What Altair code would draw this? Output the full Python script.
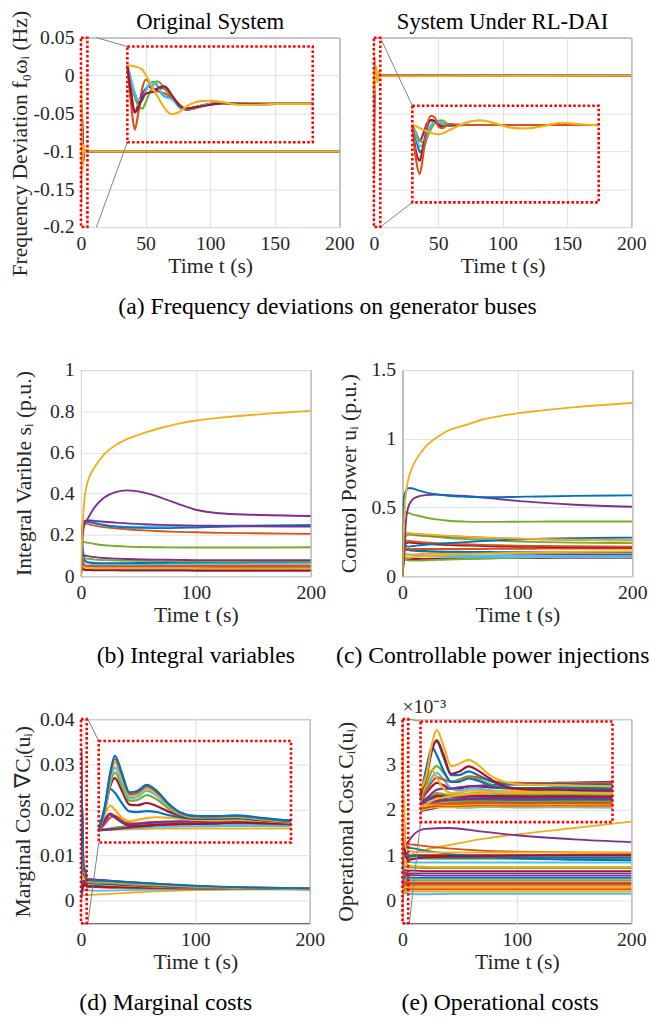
import altair as alt
import pandas as pd

FONT = "Liberation Serif"
BLUE, ORANGE, YELLOW, PURPLE = "#0072BD", "#D95319", "#EDB120", "#7E2F8E"
GREEN, CYAN, RED = "#77AC30", "#4DBEEE", "#A2142F"

# ---------------- (a) frequency deviations ----------------
TA = [0, 0.1, 0.2, 0.3, 0.4, 0.5, 0.6, 0.7, 0.8, 0.9, 1.0, 1.2, 1.4, 1.6, 1.8, 2.0,
      2.3, 2.6, 3.0, 3.5, 4.0, 4.5, 5.0, 200]

A1_BLUE = [0, -0.04, -0.08, -0.097, -0.09, -0.065, -0.048, -0.043, -0.05, -0.07, -0.08, -0.085,
           -0.108, -0.115, -0.111, -0.104, -0.099, -0.098, -0.1, -0.101, -0.1, -0.1, -0.1, -0.1]
A1_ORANGE = [0, -0.1, -0.167, -0.12, -0.06, -0.036, -0.045, -0.06, -0.066, -0.069, -0.072, -0.083,
             -0.103, -0.116, -0.112, -0.106, -0.099, -0.097, -0.099, -0.101, -0.1, -0.1, -0.1, -0.1]
A1_PURPLE = [0, -0.07, -0.122, -0.1, -0.075, -0.06, -0.055, -0.06, -0.062, -0.058, -0.06, -0.08,
             -0.105, -0.113, -0.109, -0.104, -0.1, -0.098, -0.1, -0.1, -0.1, -0.1, -0.1, -0.1]
A1_GREEN = [0, -0.04, -0.08, -0.105, -0.112, -0.095, -0.07, -0.05, -0.041, -0.046, -0.06, -0.08,
            -0.1, -0.114, -0.112, -0.106, -0.1, -0.098, -0.1, -0.1, -0.1, -0.1, -0.1, -0.1]
A1_CYAN = [0, -0.035, -0.07, -0.09, -0.085, -0.065, -0.05, -0.045, -0.052, -0.068, -0.08, -0.088,
           -0.106, -0.113, -0.11, -0.104, -0.1, -0.098, -0.1, -0.1, -0.1, -0.1, -0.1, -0.1]
A1_RED = [0, -0.07, -0.122, -0.11, -0.085, -0.073, -0.07, -0.068, -0.06, -0.055, -0.054, -0.077,
          -0.104, -0.112, -0.109, -0.106, -0.101, -0.098, -0.1, -0.1, -0.1, -0.1, -0.1, -0.1]
A1_YELLOW = [0, 0, -0.002, -0.005, -0.01, -0.025, -0.042, -0.06, -0.078, -0.095, -0.11, -0.127,
             -0.121, -0.106, -0.097, -0.092, -0.092, -0.096, -0.102, -0.102, -0.1, -0.1, -0.1, -0.1]

A2_BLUE = [0, -0.035, -0.07, -0.06, -0.03, -0.005, 0.006, 0.009, 0.004, 0, -0.002, 0,
           0.001, 0, 0, 0, 0, 0, 0, 0, 0, 0, 0, 0]
A2_PURPLE = [0, -0.03, -0.041, -0.02, 0.005, 0.012, 0.008, 0.002, -0.002, 0, 0.001, 0,
             0, 0, 0, 0, 0, 0, 0, 0, 0, 0, 0, 0]
A2_GREEN = [0, -0.02, -0.04, -0.045, -0.03, -0.01, 0.005, 0.011, 0.012, 0.006, 0, -0.002,
            0, 0, 0, 0, 0, 0, 0, 0, 0, 0, 0, 0]
A2_CYAN = [0, -0.03, -0.055, -0.05, -0.02, 0, 0.008, 0.008, 0.003, 0, 0, 0,
           0, 0, 0, 0, 0, 0, 0, 0, 0, 0, 0, 0]
A2_RED = [0, -0.07, -0.092, -0.05, -0.005, 0.013, 0.01, 0, -0.005, -0.002, 0.001, 0,
          0, 0, 0, 0, 0, 0, 0, 0, 0, 0, 0, 0]
A2_ORANGE = [0, -0.09, -0.127, -0.07, 0, 0.024, 0.02, -0.004, -0.008, -0.002, 0.002, 0.001,
             0, 0, 0, 0, 0, 0, 0, 0, 0, 0, 0, 0]
A2_YELLOW = [0, -0.003, -0.008, -0.013, -0.016, -0.02, -0.023, -0.024, -0.022, -0.018, -0.013, -0.004,
             0.005, 0.01, 0.012, 0.01, 0.002, -0.006, -0.009, -0.003, 0.006, 0.002, -0.001, 0]

# ---------------- (b) integral variables / (c) control power ----------------
TB = [0, 1, 2, 3, 5, 8, 12, 20, 30, 40, 55, 70, 85, 100, 120, 150, 200]

B_SERIES = [
    [0, 0.05, 0.035, 0.03, 0.03, 0.03, 0.03, 0.03, 0.03, 0.03, 0.03, 0.03, 0.03, 0.03, 0.03, 0.03, 0.03],
    [0, 0.06, 0.04, 0.033, 0.03, 0.029, 0.028, 0.028, 0.028, 0.027, 0.027, 0.027, 0.027, 0.026, 0.026, 0.026, 0.026],
    [0, 0.08, 0.05, 0.042, 0.04, 0.039, 0.038, 0.038, 0.038, 0.038, 0.038, 0.038, 0.038, 0.037, 0.037, 0.037, 0.037],
    [0, 0.12, 0.07, 0.055, 0.05, 0.048, 0.047, 0.046, 0.046, 0.046, 0.046, 0.046, 0.046, 0.046, 0.045, 0.045, 0.045],
    [0, 0.1, 0.06, 0.052, 0.05, 0.05, 0.05, 0.05, 0.05, 0.05, 0.051, 0.051, 0.051, 0.052, 0.052, 0.052, 0.052],
    [0, 0.2, 0.12, 0.08, 0.065, 0.06, 0.058, 0.057, 0.057, 0.058, 0.058, 0.059, 0.06, 0.06, 0.06, 0.061, 0.062],
    [0, 0.15, 0.1, 0.08, 0.07, 0.066, 0.064, 0.063, 0.063, 0.063, 0.064, 0.065, 0.066, 0.067, 0.067, 0.068, 0.069],
    [0, 0.08, 0.09, 0.088, 0.085, 0.083, 0.08, 0.078, 0.076, 0.075, 0.074, 0.073, 0.072, 0.072, 0.071, 0.071, 0.07],
    [0, 0.09, 0.1, 0.1, 0.098, 0.095, 0.092, 0.088, 0.085, 0.083, 0.081, 0.08, 0.079, 0.078, 0.078, 0.077, 0.077],
    [0, 0.14, 0.165, 0.165, 0.163, 0.16, 0.156, 0.15, 0.146, 0.143, 0.141, 0.14, 0.139, 0.139, 0.139, 0.139, 0.14],
    [0, 0.21, 0.25, 0.255, 0.255, 0.25, 0.245, 0.238, 0.232, 0.227, 0.222, 0.218, 0.215, 0.213, 0.21, 0.208, 0.205],
    [0, 0.22, 0.26, 0.268, 0.266, 0.26, 0.255, 0.247, 0.242, 0.24, 0.24, 0.241, 0.242, 0.243, 0.245, 0.246, 0.248],
    [0, 0.2, 0.25, 0.262, 0.265, 0.263, 0.258, 0.248, 0.24, 0.236, 0.234, 0.233, 0.234, 0.236, 0.239, 0.243, 0.247],
    [0, 0.2, 0.26, 0.268, 0.27, 0.27, 0.268, 0.264, 0.26, 0.256, 0.252, 0.249, 0.247, 0.245, 0.244, 0.242, 0.24],
    [0, 0.15, 0.22, 0.25, 0.27, 0.3, 0.335, 0.38, 0.408, 0.416, 0.405, 0.38, 0.35, 0.322, 0.305, 0.298, 0.292],
    [0, 0.2, 0.3, 0.37, 0.44, 0.49, 0.53, 0.59, 0.635, 0.665, 0.695, 0.72, 0.74, 0.755, 0.768, 0.783, 0.802],
]
B_COLORS = [BLUE, RED, YELLOW, ORANGE, ORANGE, CYAN, BLUE, GREEN, PURPLE, GREEN,
            ORANGE, CYAN, BLUE, PURPLE, PURPLE, YELLOW]

C_SERIES = [
    [0, 0.1, 0.12, 0.122, 0.123, 0.124, 0.125, 0.126, 0.127, 0.128, 0.129, 0.13, 0.131, 0.132, 0.132, 0.133, 0.134],
    [0, 0.15, 0.13, 0.12, 0.115, 0.113, 0.113, 0.115, 0.118, 0.121, 0.125, 0.128, 0.131, 0.134, 0.137, 0.14, 0.143],
    [0, 0.2, 0.17, 0.16, 0.158, 0.155, 0.152, 0.148, 0.145, 0.143, 0.141, 0.14, 0.139, 0.138, 0.138, 0.137, 0.137],
    [0, 0.15, 0.16, 0.16, 0.158, 0.156, 0.154, 0.152, 0.151, 0.15, 0.15, 0.15, 0.15, 0.15, 0.15, 0.15, 0.15],
    [0, 0.12, 0.18, 0.19, 0.19, 0.188, 0.185, 0.18, 0.177, 0.174, 0.171, 0.169, 0.167, 0.165, 0.163, 0.161, 0.16],
    [0, 0.32, 0.2, 0.16, 0.155, 0.157, 0.16, 0.163, 0.165, 0.167, 0.168, 0.169, 0.17, 0.17, 0.17, 0.17, 0.17],
    [0, 0.18, 0.19, 0.19, 0.19, 0.188, 0.186, 0.183, 0.18, 0.178, 0.177, 0.176, 0.175, 0.175, 0.175, 0.175, 0.175],
    [0, 0.3, 0.18, 0.14, 0.135, 0.137, 0.14, 0.145, 0.15, 0.155, 0.16, 0.165, 0.168, 0.171, 0.174, 0.177, 0.18],
    [0, 0.28, 0.22, 0.2, 0.198, 0.198, 0.198, 0.198, 0.198, 0.198, 0.198, 0.198, 0.199, 0.199, 0.2, 0.2, 0.2],
    [0, 0.15, 0.22, 0.24, 0.245, 0.243, 0.24, 0.235, 0.23, 0.226, 0.222, 0.219, 0.216, 0.214, 0.212, 0.21, 0.208],
    [0, 0.25, 0.26, 0.26, 0.258, 0.255, 0.25, 0.245, 0.24, 0.236, 0.232, 0.228, 0.225, 0.222, 0.22, 0.218, 0.215],
    [0, 0.2, 0.27, 0.29, 0.3, 0.3, 0.298, 0.292, 0.285, 0.278, 0.27, 0.263, 0.257, 0.252, 0.248, 0.244, 0.24],
    [0, 0.3, 0.25, 0.22, 0.215, 0.218, 0.222, 0.228, 0.235, 0.24, 0.248, 0.255, 0.262, 0.267, 0.272, 0.277, 0.28],
    [0, 0.25, 0.3, 0.31, 0.31, 0.308, 0.305, 0.3, 0.295, 0.29, 0.285, 0.28, 0.275, 0.272, 0.268, 0.264, 0.26],
    [0, 0.3, 0.31, 0.31, 0.31, 0.31, 0.308, 0.303, 0.298, 0.293, 0.287, 0.282, 0.277, 0.273, 0.27, 0.265, 0.26],
    [0, 0.4, 0.46, 0.465, 0.46, 0.452, 0.443, 0.427, 0.413, 0.403, 0.397, 0.395, 0.395, 0.396, 0.397, 0.398, 0.398],
    [0, 0.1, 0.25, 0.4, 0.5, 0.55, 0.575, 0.59, 0.593, 0.59, 0.583, 0.572, 0.56, 0.548, 0.535, 0.52, 0.505],
    [0, 0.55, 0.6, 0.62, 0.64, 0.64, 0.63, 0.61, 0.595, 0.585, 0.578, 0.575, 0.575, 0.577, 0.58, 0.584, 0.588],
    [0, 0.3, 0.5, 0.6, 0.7, 0.78, 0.85, 0.94, 1.01, 1.06, 1.1, 1.14, 1.165, 1.185, 1.205, 1.23, 1.26],
]
C_COLORS = [RED, GREEN, CYAN, CYAN, PURPLE, YELLOW, BLUE, YELLOW, ORANGE, RED,
            ORANGE, GREEN, BLUE, PURPLE, YELLOW, GREEN, PURPLE, BLUE, YELLOW]

# ---------------- (d) marginal costs / (e) operational costs ----------------
TD = [0, 0.15, 0.3, 0.42, 0.6, 0.8, 1.0, 1.25, 1.5, 1.8, 2.1, 2.5, 3.0, 3.6, 4.3, 5.0,
      10, 20, 40, 70, 100, 150, 200]

D_SERIES = [
    [0.0005, 0.0005, 0.0006, 0.0007, 0.0008, 0.0009, 0.001, 0.0011, 0.0012, 0.0012, 0.0012, 0.0012, 0.0012, 0.0012, 0.0012, 0.0012, 0.0013, 0.0014, 0.0017, 0.0021, 0.0023, 0.0025, 0.0025],
    [0.0005, 0.0006, 0.0008, 0.001, 0.0012, 0.0014, 0.0016, 0.0018, 0.002, 0.0021, 0.0022, 0.0022, 0.0023, 0.0024, 0.0024, 0.0023, 0.0022, 0.0022, 0.0023, 0.0024, 0.0025, 0.0025, 0.0025],
    [0.0005, 0.0007, 0.001, 0.0013, 0.0016, 0.0019, 0.0022, 0.0026, 0.003, 0.0032, 0.0033, 0.0033, 0.0034, 0.0035, 0.0034, 0.0033, 0.0033, 0.0032, 0.0031, 0.003, 0.0028, 0.0027, 0.0026],
    [0.0005, 0.0008, 0.0012, 0.0016, 0.002, 0.0025, 0.003, 0.0035, 0.0038, 0.004, 0.004, 0.004, 0.0041, 0.0043, 0.0042, 0.004, 0.0039, 0.0038, 0.0035, 0.0032, 0.003, 0.0027, 0.0026],
    [0.0005, 0.0006, 0.0008, 0.001, 0.0013, 0.0016, 0.002, 0.0024, 0.0028, 0.003, 0.0032, 0.0034, 0.0038, 0.0042, 0.0044, 0.0045, 0.0046, 0.0045, 0.0041, 0.0036, 0.0032, 0.0028, 0.0026],
    [0.0005, 0.003, 0.006, 0.0068, 0.005, 0.0035, 0.0035, 0.004, 0.0042, 0.004, 0.0037, 0.0035, 0.0035, 0.0037, 0.0034, 0.003, 0.003, 0.0029, 0.0028, 0.0027, 0.0026, 0.0026, 0.0025],
    [0.0005, 0.005, 0.0078, 0.0065, 0.004, 0.0025, 0.0022, 0.0025, 0.0028, 0.003, 0.0031, 0.0032, 0.0035, 0.0038, 0.0036, 0.0032, 0.0031, 0.003, 0.0029, 0.0028, 0.0027, 0.0026, 0.0025],
    [0.0005, 0.004, 0.0075, 0.006, 0.004, 0.003, 0.0032, 0.0036, 0.004, 0.0043, 0.0044, 0.0043, 0.0042, 0.0045, 0.0047, 0.0048, 0.0047, 0.0045, 0.004, 0.0035, 0.0031, 0.0028, 0.0026],
    [0.0005, 0.007, 0.0114, 0.0095, 0.006, 0.0045, 0.005, 0.0058, 0.0062, 0.006, 0.0056, 0.005, 0.0048, 0.005, 0.0045, 0.0038, 0.0037, 0.0036, 0.0033, 0.003, 0.0028, 0.0026, 0.0025],
    [0.0005, 0.01, 0.0187, 0.017, 0.0125, 0.0088, 0.0085, 0.0089, 0.0085, 0.0072, 0.0062, 0.0055, 0.0055, 0.0057, 0.0047, 0.0039, 0.0038, 0.0037, 0.0034, 0.0031, 0.0029, 0.0027, 0.0026],
    [0.0005, 0.0085, 0.02, 0.0235, 0.018, 0.0118, 0.0115, 0.0125, 0.0112, 0.0088, 0.007, 0.0058, 0.0058, 0.006, 0.0049, 0.004, 0.0039, 0.0038, 0.0035, 0.0032, 0.003, 0.0027, 0.0026],
    [0.0005, 0.008, 0.021, 0.026, 0.02, 0.0135, 0.0138, 0.016, 0.0142, 0.0103, 0.0075, 0.006, 0.006, 0.0062, 0.005, 0.0041, 0.004, 0.0039, 0.0036, 0.0033, 0.003, 0.0027, 0.0026],
    [0.0005, 0.0085, 0.0225, 0.0283, 0.022, 0.0147, 0.0152, 0.018, 0.0158, 0.0112, 0.0078, 0.0062, 0.0062, 0.0064, 0.0052, 0.0043, 0.0042, 0.0041, 0.0038, 0.0034, 0.0031, 0.0028, 0.0026],
    [0.0005, 0.009, 0.024, 0.0305, 0.0238, 0.0157, 0.0162, 0.019, 0.0167, 0.0117, 0.0081, 0.0064, 0.0064, 0.0066, 0.0054, 0.0044, 0.0043, 0.0042, 0.0039, 0.0035, 0.0032, 0.0028, 0.0026],
    [0.0005, 0.0095, 0.025, 0.032, 0.025, 0.0165, 0.017, 0.0198, 0.0174, 0.0121, 0.0083, 0.0066, 0.0065, 0.0068, 0.0056, 0.0045, 0.0044, 0.0043, 0.004, 0.0036, 0.0032, 0.0029, 0.0027],
    [0.0005, 0.01, 0.026, 0.0334, 0.026, 0.0172, 0.0178, 0.0205, 0.018, 0.0125, 0.0085, 0.0068, 0.0067, 0.007, 0.0058, 0.0046, 0.0045, 0.0044, 0.0041, 0.0037, 0.0033, 0.0029, 0.0027],
]
D_COLORS = [YELLOW, CYAN, BLUE, GREEN, PURPLE, ORANGE, RED, PURPLE, YELLOW,
            BLUE, RED, GREEN, CYAN, YELLOW, ORANGE, BLUE]

E_SERIES = [
    [0.0, 0.05, 0.1, 0.15, 0.2, 0.25, 0.3, 0.35, 0.36, 0.36, 0.36, 0.36, 0.37, 0.38, 0.38, 0.38, 0.38, 0.38, 0.38, 0.38, 0.38, 0.38, 0.38],
    [0.05, 0.1, 0.2, 0.3, 0.25, 0.2, 0.15, 0.15, 0.17, 0.18, 0.17, 0.16, 0.16, 0.17, 0.16, 0.15, 0.14, 0.14, 0.15, 0.15, 0.15, 0.15, 0.15],
    [0.05, 0.1, 0.15, 0.17, 0.17, 0.17, 0.17, 0.19, 0.2, 0.2, 0.2, 0.2, 0.2, 0.21, 0.2, 0.2, 0.2, 0.2, 0.2, 0.2, 0.2, 0.2, 0.2],
    [0.1, 0.15, 0.2, 0.22, 0.22, 0.22, 0.22, 0.25, 0.26, 0.26, 0.25, 0.25, 0.25, 0.26, 0.25, 0.25, 0.25, 0.25, 0.25, 0.25, 0.25, 0.25, 0.25],
    [0.2, 0.25, 0.3, 0.3, 0.28, 0.27, 0.27, 0.3, 0.31, 0.31, 0.3, 0.3, 0.3, 0.31, 0.3, 0.3, 0.3, 0.3, 0.3, 0.3, 0.3, 0.3, 0.3],
    [0.25, 0.3, 0.35, 0.35, 0.33, 0.32, 0.32, 0.35, 0.36, 0.36, 0.35, 0.35, 0.35, 0.36, 0.35, 0.35, 0.35, 0.35, 0.35, 0.35, 0.35, 0.35, 0.35],
    [0.3, 0.5, 0.7, 0.6, 0.45, 0.4, 0.4, 0.42, 0.42, 0.41, 0.4, 0.4, 0.4, 0.41, 0.4, 0.4, 0.4, 0.4, 0.4, 0.4, 0.4, 0.4, 0.4],
    [0.2, 0.3, 0.4, 0.45, 0.43, 0.42, 0.43, 0.47, 0.48, 0.47, 0.46, 0.45, 0.45, 0.46, 0.46, 0.45, 0.45, 0.45, 0.45, 0.45, 0.45, 0.45, 0.45],
    [0.35, 0.45, 0.55, 0.6, 0.55, 0.5, 0.5, 0.53, 0.53, 0.52, 0.51, 0.5, 0.5, 0.51, 0.51, 0.5, 0.5, 0.5, 0.5, 0.5, 0.5, 0.5, 0.5],
    [0.3, 0.35, 0.4, 0.45, 0.47, 0.5, 0.52, 0.55, 0.56, 0.56, 0.56, 0.56, 0.56, 0.57, 0.57, 0.56, 0.56, 0.55, 0.55, 0.55, 0.55, 0.55, 0.55],
    [0.4, 0.5, 0.6, 0.65, 0.62, 0.6, 0.6, 0.64, 0.64, 0.62, 0.61, 0.6, 0.6, 0.61, 0.61, 0.6, 0.6, 0.6, 0.6, 0.6, 0.6, 0.6, 0.6],
    [0.45, 0.55, 0.65, 0.7, 0.68, 0.65, 0.66, 0.7, 0.7, 0.68, 0.67, 0.66, 0.66, 0.67, 0.66, 0.66, 0.66, 0.65, 0.65, 0.65, 0.65, 0.65, 0.65],
    [0.55, 0.6, 0.7, 0.8, 0.75, 0.7, 0.7, 0.78, 0.8, 0.78, 0.76, 0.75, 0.74, 0.75, 0.74, 0.73, 0.73, 0.72, 0.72, 0.72, 0.72, 0.72, 0.72],
    [0.5, 0.8, 1.1, 1.25, 1.15, 1.0, 1.0, 1.1, 1.1, 1.05, 1.02, 1.0, 1.0, 1.02, 1.01, 1.0, 1.0, 1.0, 1.0, 1.0, 1.0, 1.0, 1.0],
    [0.4, 1.0, 1.5, 1.7, 1.4, 1.0, 0.9, 1.0, 1.0, 0.92, 0.88, 0.86, 0.86, 0.88, 0.86, 0.85, 0.84, 0.84, 0.84, 0.84, 0.84, 0.84, 0.84],
    [0.2, 0.3, 0.45, 0.55, 0.6, 0.65, 0.7, 0.75, 0.78, 0.82, 0.85, 0.88, 0.9, 0.93, 0.96, 0.98, 1.05, 1.12, 1.22, 1.36, 1.46, 1.6, 1.74],
    [0.3, 0.5, 0.8, 0.95, 1.0, 1.0, 1.05, 1.1, 1.12, 1.15, 1.18, 1.2, 1.22, 1.25, 1.28, 1.3, 1.46, 1.58, 1.6, 1.52, 1.44, 1.35, 1.29],
    [0.5, 0.9, 1.3, 1.5, 1.4, 1.3, 1.4, 1.55, 1.5, 1.35, 1.28, 1.25, 1.24, 1.25, 1.24, 1.24, 1.23, 1.2, 1.15, 1.1, 1.08, 1.06, 1.05],
    [0.6, 1.2, 1.8, 2.0, 1.7, 1.3, 1.35, 1.5, 1.4, 1.2, 1.05, 1.0, 0.98, 1.0, 0.97, 0.95, 0.93, 0.92, 0.92, 0.92, 0.92, 0.92, 0.92],
    [0.5, 1.4, 1.84, 1.5, 1.0, 0.8, 0.8, 0.9, 0.9, 0.85, 0.82, 0.8, 0.8, 0.82, 0.8, 0.78, 0.76, 0.75, 0.74, 0.74, 0.74, 0.74, 0.74],
    [0.6, 1.9, 2.85, 2.5, 1.8, 1.3, 1.3, 1.45, 1.35, 1.15, 1.05, 1.02, 1.02, 1.05, 1.03, 1.0, 0.98, 0.96, 0.95, 0.95, 0.95, 0.95, 0.95],
    [0.7, 1.8, 2.88, 3.1, 2.4, 1.6, 1.6, 1.77, 1.6, 1.35, 1.2, 1.18, 1.18, 1.2, 1.18, 1.17, 1.15, 1.1, 1.03, 0.97, 0.93, 0.9, 0.89],
    [0.8, 1.5, 2.7, 3.17, 2.5, 1.65, 1.75, 1.99, 1.8, 1.45, 1.15, 1.0, 0.95, 0.95, 0.92, 0.9, 0.92, 0.95, 0.97, 0.98, 0.99, 1.0, 1.0],
    [0.9, 1.6, 3.0, 3.62, 2.9, 2.0, 2.1, 2.28, 2.05, 1.6, 1.35, 1.2, 1.15, 1.15, 1.12, 1.1, 1.08, 1.07, 1.06, 1.06, 1.06, 1.06, 1.06],
]
E_COLORS = [PURPLE, CYAN, YELLOW, ORANGE, YELLOW, ORANGE, ORANGE, GREEN, BLUE, PURPLE,
            PURPLE, RED, GREEN, RED, CYAN, YELLOW, PURPLE, ORANGE, GREEN, YELLOW,
            BLUE, BLUE, RED, YELLOW]

ZOOM_T = [0, 5]  # time window magnified by the insets


def long_df(times, series, colors):
    rows = []
    for i, vals in enumerate(series):
        assert len(vals) == len(times), (i, len(vals), len(times))
        for t, v in zip(times, vals):
            rows.append({"t": t, "v": v, "s": f"s{i:02d}", "c": colors[i]})
    return pd.DataFrame(rows)


def panel(times, series, colors, W, H, ydom, yticks, ytitle, title_x, title_y=None,
          xticks=(0, 100, 200), inset=None, show_y=True, title=None, extra=None, head=None):
    xdom = [0, 200]
    df = long_df(times, series, colors)
    color = alt.Color("c:N", scale=None)
    detail = alt.Detail("s:N")
    xs = alt.Scale(domain=xdom, nice=False, zero=False)
    ys = alt.Scale(domain=ydom, nice=False, zero=False)
    lab = "replace(format(datum.value, '~g'), '\u2212', '-')"
    if show_y:
        kw = dict(values=list(yticks), title=ytitle, titleX=title_x, labelExpr=lab)
        if title_y is not None:
            kw["titleY"] = title_y
        yaxis = alt.Axis(**kw)
    else:
        yaxis = alt.Axis(values=list(yticks), labels=False, title=None)
    main = alt.Chart(df).mark_line(strokeWidth=1.9, interpolate="monotone", clip=True).encode(
        x=alt.X("t:Q", scale=xs, axis=alt.Axis(values=list(xticks), title="Time t (s)")),
        y=alt.Y("v:Q", scale=ys, axis=yaxis),
        color=color, detail=detail,
    )
    layers = [main]
    if inset is not None:
        x0, x1, yb, yt, cx = inset

        def px(x):
            return (x - xdom[0]) / (xdom[1] - xdom[0]) * W

        def py(y):
            return (ydom[1] - y) / (ydom[1] - ydom[0]) * H

        ins = alt.Chart(df).transform_filter(f"datum.t <= {ZOOM_T[1]}").mark_line(
            strokeWidth=2.2, interpolate="monotone").encode(
            x=alt.X("t:Q", scale=alt.Scale(domain=ZOOM_T, range=[px(x0), px(x1)], nice=False, zero=False), axis=None),
            y=alt.Y("v:Q", scale=alt.Scale(domain=ydom, range=[py(yb), py(yt)], nice=False, zero=False), axis=None),
            color=color, detail=detail,
        )
        conn_df = pd.DataFrame({"x": [cx, cx], "y": [ydom[1], ydom[0]], "x2": [x0, x0], "y2": [yt, yb]})
        conns = alt.Chart(conn_df).mark_rule(color="#808080", strokeWidth=1).encode(
            x=alt.X("x:Q", scale=xs, axis=None), y=alt.Y("y:Q", scale=ys, axis=None),
            x2="x2:Q", y2="y2:Q")
        box_df = pd.DataFrame({"x": [ZOOM_T[0], x0], "x2": [ZOOM_T[1], x1],
                               "y": [ydom[0], yb], "y2": [ydom[1], yt]})
        boxes = alt.Chart(box_df).mark_rect(fillOpacity=0, stroke="#FF0000", strokeWidth=2.6,
                                            strokeDash=[2.6, 2.2]).encode(
            x=alt.X("x:Q", scale=xs, axis=None), x2="x2:Q",
            y=alt.Y("y:Q", scale=ys, axis=None), y2="y2:Q")
        layers += [ins, conns, boxes]
    if extra is not None:
        ex_df = pd.DataFrame({"x": [extra[0]], "y": [extra[1]], "label": [extra[2]]})
        layers.append(alt.Chart(ex_df).mark_text(align="left", baseline="bottom", dy=-2, font=FONT,
                                                 fontSize=20, color="#262626").encode(
            x=alt.X("x:Q", scale=xs, axis=None), y=alt.Y("y:Q", scale=ys, axis=None), text="label:N"))
    if head is not None:
        hd_df = pd.DataFrame({"x": [(xdom[0] + xdom[1]) / 2], "y": [ydom[1]], "label": [head]})
        layers.append(alt.Chart(hd_df).mark_text(align="center", baseline="bottom", dy=-4, font=FONT,
                                                 fontSize=23, color="#000000").encode(
            x=alt.X("x:Q", scale=xs, axis=None), y=alt.Y("y:Q", scale=ys, axis=None), text="label:N"))
    ch = alt.layer(*layers).resolve_scale(x="independent", y="independent").properties(width=W, height=H)
    if title is not None:
        ch = ch.properties(title=title)
    return ch


def caption(text, dx=0):
    return alt.TitleParams(text=text, orient="bottom", fontSize=24, font=FONT, fontWeight="normal",
                           anchor="middle", offset=19, dx=dx, color="#000000")


A_YTICKS = [-0.2, -0.15, -0.1, -0.05, 0, 0.05]
A_XTICKS = [0, 50, 100, 150, 200]
pa1 = panel(TA, [A1_BLUE, A1_ORANGE, A1_PURPLE, A1_GREEN, A1_CYAN, A1_RED, A1_YELLOW],
            [BLUE, ORANGE, PURPLE, GREEN, CYAN, RED, YELLOW], 262, 192, [-0.2, 0.05], A_YTICKS,
            "Frequency Deviation f\u2080\u03c9\u1d62 (Hz)", -50, title_y=107, xticks=A_XTICKS,
            inset=(35.9, 179.4, -0.088, 0.0383, 12), head="Original System")
pa2 = panel(TA, [A2_BLUE, A2_PURPLE, A2_GREEN, A2_CYAN, A2_RED, A2_ORANGE, A2_YELLOW],
            [BLUE, PURPLE, GREEN, CYAN, RED, ORANGE, YELLOW], 261, 192, [-0.2, 0.05], A_YTICKS,
            None, 0, xticks=A_XTICKS, show_y=False,
            inset=(29.9, 174.7, -0.1674, -0.0398, 5), head="System Under RL-DAI")
row1 = alt.hconcat(pa1, pa2, spacing=13).properties(
    title=caption("(a) Frequency deviations on generator buses"))

pb = panel(TB, B_SERIES, B_COLORS, 233, 209, [0, 1], [0, 0.2, 0.4, 0.6, 0.8, 1],
           "Integral Varible s\u1d62 (p.u.)", -46, title=caption("(b) Integral variables"))
pc = panel(TB, C_SERIES, C_COLORS, 233, 209, [0, 1.5], [0, 0.5, 1, 1.5],
           "Control Power u\u1d62 (p.u.)", -43, title=caption("(c) Controllable power injections", dx=-25))
row2 = alt.hconcat(pb, pc, spacing=9)

pd_ = panel(TD, D_SERIES, D_COLORS, 232, 207, [-0.005, 0.04], [0, 0.01, 0.02, 0.03, 0.04],
            "Marginal Cost \u2207C\u1d62(u\u1d62)", -47,
            inset=(15.5, 183.6, 0.0128, 0.0352, 6), title=caption("(d) Marginal costs", dx=-30))
pe = panel(TD, E_SERIES, E_COLORS, 232, 207, [-0.5, 4], [0, 1, 2, 3, 4],
           "Operational Cost C\u1d62(u\u1d62)", -46,
           inset=(15.8, 183.6, 1.73, 3.95, 6), extra=(0, 4, "\u00d710\u207b\u00b3"),
           title=caption("(e) Operational costs", dx=-17))
row3 = alt.hconcat(pd_, pe, spacing=8)

lower = alt.vconcat(row2, row3, spacing=28)
chart = alt.vconcat(row1, lower, spacing=40).configure_view(
    stroke="#3a3a3a", strokeWidth=1
).configure_axis(
    labelFont=FONT, titleFont=FONT, labelFontSize=20, titleFontSize=22, titleFontWeight="normal",
    labelColor="#262626", titleColor="#262626", gridColor="#e0e0e0", gridWidth=1,
    domain=False, ticks=False, labelPadding=7, titlePadding=2, labelFlush=False, labelOverlap=False
).configure_title(font=FONT, fontWeight="normal", color="#000000").properties(
    background="white", padding={"top": -6, "left": 0, "right": 0, "bottom": 0})

chart.save("out.html", embed_options={"renderer": "svg", "actions": False})
